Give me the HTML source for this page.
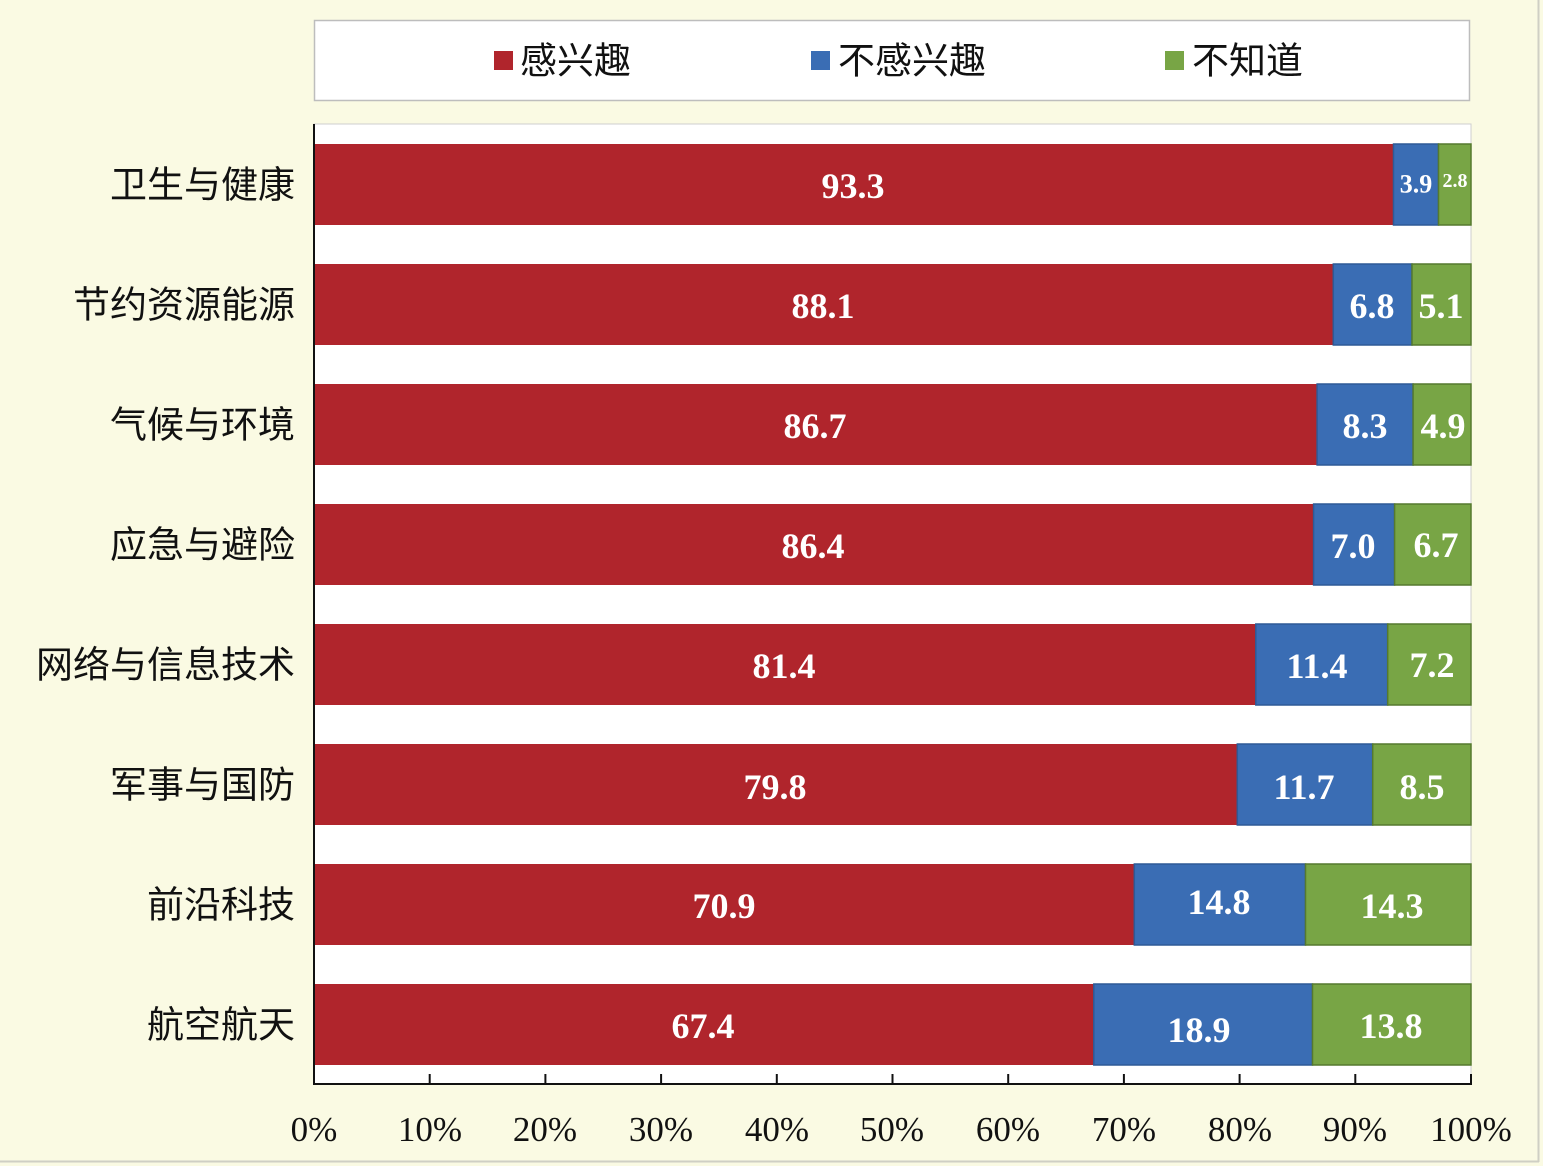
<!DOCTYPE html>
<html><head><meta charset="utf-8"><style>
html,body{margin:0;padding:0;background:#fafae3;}
svg{display:block}
.n{font-family:"Liberation Serif",serif;font-weight:bold;fill:#fff;font-size:36px;text-anchor:middle;dominant-baseline:central}
.c{font-family:"Liberation Sans","Noto Sans CJK SC",sans-serif;font-size:37px;fill:#111;text-anchor:end;dominant-baseline:central}
.t{font-family:"Liberation Serif",serif;font-size:35px;fill:#111;text-anchor:middle}
</style></head><body>
<svg width="1543" height="1166" viewBox="0 0 1543 1166" xmlns="http://www.w3.org/2000/svg">
<rect x="0" y="0" width="1543" height="1166" fill="#fafae3"/>
<line x1="1538.5" y1="0" x2="1538.5" y2="1162" stroke="#cfcfc4" stroke-width="2"/>
<line x1="0" y1="1161.5" x2="1539" y2="1161.5" stroke="#cfcfc4" stroke-width="2"/>
<!-- legend -->
<rect x="314.5" y="20.5" width="1155" height="80" fill="#fff" stroke="#bdbdbd" stroke-width="1.5"/>
<rect x="494" y="51" width="19" height="19" fill="#b0252c"/>
<text x="520" y="61" style="font-family:'Liberation Sans','Noto Sans CJK SC',sans-serif;font-size:37px;dominant-baseline:central;fill:#111">感兴趣</text>
<rect x="811" y="51" width="19" height="19" fill="#3a6db4"/>
<text x="838" y="61" style="font-family:'Liberation Sans','Noto Sans CJK SC',sans-serif;font-size:37px;dominant-baseline:central;fill:#111">不感兴趣</text>
<rect x="1165" y="51" width="19" height="19" fill="#78a545"/>
<text x="1192" y="61" style="font-family:'Liberation Sans','Noto Sans CJK SC',sans-serif;font-size:37px;dominant-baseline:central;fill:#111">不知道</text>
<!-- plot -->
<rect x="314" y="124" width="1157" height="960" fill="#fff" stroke="#cfcfcf" stroke-width="1"/>
<g stroke-width="1.5">
<rect x="314" y="144" width="1079.5" height="81" fill="#b0252c"/>
<rect x="1393.5" y="144" width="45" height="81" fill="#3a6db4" stroke="#2e5a96"/>
<rect x="1438.5" y="144" width="32.5" height="81" fill="#78a545" stroke="#55792f"/>

<rect x="314" y="264" width="1019.3" height="81" fill="#b0252c"/>
<rect x="1333.3" y="264" width="78.7" height="81" fill="#3a6db4" stroke="#2e5a96"/>
<rect x="1412" y="264" width="59" height="81" fill="#78a545" stroke="#55792f"/>

<rect x="314" y="384" width="1003.1" height="81" fill="#b0252c"/>
<rect x="1317.1" y="384" width="96" height="81" fill="#3a6db4" stroke="#2e5a96"/>
<rect x="1413.1" y="384" width="57.9" height="81" fill="#78a545" stroke="#55792f"/>

<rect x="314" y="504" width="999.6" height="81" fill="#b0252c"/>
<rect x="1313.6" y="504" width="81" height="81" fill="#3a6db4" stroke="#2e5a96"/>
<rect x="1394.6" y="504" width="76.4" height="81" fill="#78a545" stroke="#55792f"/>

<rect x="314" y="624" width="941.8" height="81" fill="#b0252c"/>
<rect x="1255.8" y="624" width="131.9" height="81" fill="#3a6db4" stroke="#2e5a96"/>
<rect x="1387.7" y="624" width="83.3" height="81" fill="#78a545" stroke="#55792f"/>

<rect x="314" y="744" width="923.3" height="81" fill="#b0252c"/>
<rect x="1237.3" y="744" width="135.4" height="81" fill="#3a6db4" stroke="#2e5a96"/>
<rect x="1372.7" y="744" width="98.3" height="81" fill="#78a545" stroke="#55792f"/>

<rect x="314" y="864" width="820.3" height="81" fill="#b0252c"/>
<rect x="1134.3" y="864" width="171.2" height="81" fill="#3a6db4" stroke="#2e5a96"/>
<rect x="1305.5" y="864" width="165.5" height="81" fill="#78a545" stroke="#55792f"/>

<rect x="314" y="984" width="779.8" height="81" fill="#b0252c"/>
<rect x="1093.8" y="984" width="218.7" height="81" fill="#3a6db4" stroke="#2e5a96"/>
<rect x="1312.5" y="984" width="158.5" height="81" fill="#78a545" stroke="#55792f"/>
</g>
<!-- axis -->
<g stroke="#111" stroke-width="2">
<line x1="314" y1="124" x2="314" y2="1085"/>
<line x1="313" y1="1084" x2="1472" y2="1084"/>
<line x1="429.7" y1="1074" x2="429.7" y2="1084"/>
<line x1="545.4" y1="1074" x2="545.4" y2="1084"/>
<line x1="661.1" y1="1074" x2="661.1" y2="1084"/>
<line x1="776.8" y1="1074" x2="776.8" y2="1084"/>
<line x1="892.5" y1="1074" x2="892.5" y2="1084"/>
<line x1="1008.2" y1="1074" x2="1008.2" y2="1084"/>
<line x1="1123.9" y1="1074" x2="1123.9" y2="1084"/>
<line x1="1239.6" y1="1074" x2="1239.6" y2="1084"/>
<line x1="1355.3" y1="1074" x2="1355.3" y2="1084"/>
<line x1="1471" y1="1074" x2="1471" y2="1084"/>
</g>
<g class="t">
<text x="314" y="1141">0%</text><text x="430" y="1141">10%</text><text x="545" y="1141">20%</text>
<text x="661" y="1141">30%</text><text x="777" y="1141">40%</text><text x="892" y="1141">50%</text>
<text x="1008" y="1141">60%</text><text x="1124" y="1141">70%</text><text x="1240" y="1141">80%</text>
<text x="1355" y="1141">90%</text><text x="1471" y="1141">100%</text>
</g>
<g class="c">
<text x="295" y="185">卫生与健康</text>
<text x="295" y="305">节约资源能源</text>
<text x="295" y="425">气候与环境</text>
<text x="295" y="545">应急与避险</text>
<text x="295" y="665">网络与信息技术</text>
<text x="295" y="785">军事与国防</text>
<text x="295" y="905">前沿科技</text>
<text x="295" y="1025">航空航天</text>
</g>
<g class="n">
<text x="853" y="186">93.3</text>
<text x="1416" y="184" style="font-size:26px">3.9</text>
<text x="1455" y="181" style="font-size:20px">2.8</text>
<text x="823" y="306">88.1</text><text x="1372" y="306">6.8</text><text x="1441" y="306">5.1</text>
<text x="815" y="426">86.7</text><text x="1365" y="426">8.3</text><text x="1443" y="426">4.9</text>
<text x="813" y="546">86.4</text><text x="1353" y="546">7.0</text><text x="1436" y="545">6.7</text>
<text x="784" y="666">81.4</text><text x="1317" y="666">11.4</text><text x="1432" y="665">7.2</text>
<text x="775" y="787">79.8</text><text x="1304" y="787">11.7</text><text x="1422" y="787">8.5</text>
<text x="724" y="906">70.9</text><text x="1219" y="902">14.8</text><text x="1392" y="906">14.3</text>
<text x="703" y="1026">67.4</text><text x="1199" y="1030">18.9</text><text x="1391" y="1026">13.8</text>
</g>
</svg>
</body></html>
